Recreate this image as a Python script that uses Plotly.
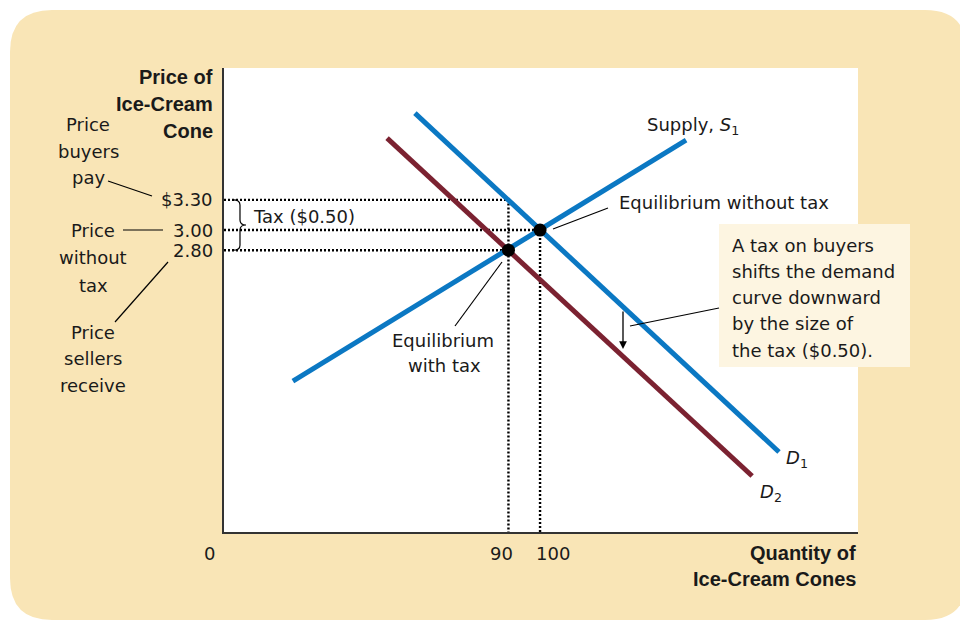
import plotly.graph_objects as go

# curve end points (quantity, price)
supply_q = [21.8, 146.2]
supply_p = [1.50, 3.894]
demand1_q = [60.4, 175.6]
demand1_p = [4.162, 0.795]
demand2_q = [51.6, 167.1]
demand2_p = [3.914, 0.556]

# equilibria: without tax, with tax
eq_q = [100, 90]
eq_p = [3.00, 2.80]
buyers_price = 3.30

price_ticks = [3.30, 3.00, 2.80]
price_labels = ["$3.30", "3.00", "2.80"]
qty_ticks = [90, 100]
qty_labels = ["90", "100"]

BLUE = "#0b78c3"
RED = "#7b2231"
TAN = "#f9e5b6"
INK = "#1a1a1a"
FONT = "DejaVu Sans"
BOLD = "Liberation Sans"


# pixel -> paper helpers (plot area is 224..858 x 68..532 on the page)
def px(p):
    return (p - 224) / 634


def py(p):
    return (532 - p) / 464


fig = go.Figure()

dot = dict(color="black", width=2.4, dash="2px,2px")
fig.add_trace(go.Scatter(x=[0, qty_ticks[0], qty_ticks[0]], y=[buyers_price, buyers_price, 0],
                         mode="lines", line=dot, hoverinfo="skip"))
fig.add_trace(go.Scatter(x=[0, eq_q[0], eq_q[0]], y=[eq_p[0], eq_p[0], 0],
                         mode="lines", line=dot, hoverinfo="skip"))
fig.add_trace(go.Scatter(x=[0, eq_q[1]], y=[eq_p[1], eq_p[1]],
                         mode="lines", line=dot, hoverinfo="skip"))

fig.add_trace(go.Scatter(x=demand2_q, y=demand2_p, mode="lines", line=dict(color=RED, width=5)))
fig.add_trace(go.Scatter(x=demand1_q, y=demand1_p, mode="lines", line=dict(color=BLUE, width=5)))
fig.add_trace(go.Scatter(x=supply_q, y=supply_p, mode="lines", line=dict(color=BLUE, width=5)))
fig.add_trace(go.Scatter(x=eq_q, y=eq_p, mode="markers", marker=dict(color="black", size=13)))

# background panel with rounded corners
L, T, R, B, rad = 10, 10, 967, 620, 42
panel = (f"M {px(L + rad)},{py(T)} L {px(R - rad)},{py(T)} Q {px(R)},{py(T)} {px(R)},{py(T + rad)} "
         f"L {px(R)},{py(B - rad)} Q {px(R)},{py(B)} {px(R - rad)},{py(B)} "
         f"L {px(L + rad)},{py(B)} Q {px(L)},{py(B)} {px(L)},{py(B - rad)} "
         f"L {px(L)},{py(T + rad)} Q {px(L)},{py(T)} {px(L + rad)},{py(T)} Z")
fig.add_shape(type="path", path=panel, xref="paper", yref="paper",
              fillcolor=TAN, line_width=0, layer="below")
fig.add_shape(type="rect", x0=0, x1=1, y0=0, y1=1, xref="paper", yref="paper",
              fillcolor="white", line_width=0, layer="below")
fig.add_shape(type="rect", x0=px(719), x1=px(910), y0=py(367), y1=py(224),
              xref="paper", yref="paper", fillcolor="#fdf5e1", line_width=0, layer="below")

# brace for the tax
xl, xs, xt = 2.85, 5.06, 6.96
mid = (buyers_price + eq_p[1]) / 2
brace = (f"M {xl},{buyers_price} Q {xs},{buyers_price} {xs},{buyers_price - 0.05} "
         f"L {xs},{mid + 0.05} Q {xs},{mid} {xt},{mid} Q {xs},{mid} {xs},{mid - 0.05} "
         f"L {xs},{eq_p[1] + 0.05} Q {xs},{eq_p[1]} {xl},{eq_p[1]}")
fig.add_shape(type="path", path=brace, xref="x", yref="y", line=dict(color="black", width=1.2))

# leader lines
leaders = [(108, 181, 152, 196), (123, 230, 163, 230), (168, 262, 115, 322),
           (553, 229, 608, 208), (502, 262, 455, 326), (719, 308, 630, 326)]
for x0, y0, x1, y1 in leaders:
    fig.add_shape(type="line", x0=px(x0), y0=py(y0), x1=px(x1), y1=py(y1),
                  xref="paper", yref="paper", line=dict(color="black", width=1.2))


def note(text, x, y, anchor="center", size=18, family=FONT, bold=False):
    if bold:
        text = "<b>" + text + "</b>"
    fig.add_annotation(text=text, x=px(x), y=py(y), xref="paper", yref="paper",
                       xanchor=anchor, yanchor="middle", showarrow=False,
                       font=dict(family=family, size=size, color=INK))


# axis titles
for t, yy in zip(["Price of", "Ice-Cream", "Cone"], [77, 104, 131]):
    note(t, 215, yy, "right", 20, BOLD, True)
note("Quantity of", 858, 553, "right", 20, BOLD, True)
note("Ice-Cream Cones", 858, 579, "right", 20, BOLD, True)

# tick labels
for v, lab in zip(price_ticks, price_labels):
    fig.add_annotation(text=lab, x=0, y=v, xref="x", yref="y", xanchor="right", yanchor="middle",
                       xshift=-9, showarrow=False, font=dict(family=FONT, size=18, color=INK))
for v, lab, sh in zip(qty_ticks, qty_labels, [-7, 13]):
    fig.add_annotation(text=lab, x=v, y=0, xref="x", yref="y", xanchor="center", yanchor="middle",
                       xshift=sh, yshift=-21, showarrow=False, font=dict(family=FONT, size=18, color=INK))
note("0", 209, 553)

# left side notes
for t, yy in zip(["Price", "buyers", "pay"], [124, 151, 178]):
    note(t, 88, yy)
for t, yy in zip(["Price", "without", "tax"], [230, 258, 285]):
    note(t, 93, yy)
for t, yy in zip(["Price", "sellers", "receive"], [332, 358, 385]):
    note(t, 93, yy)

note("Tax ($0.50)", 251, 217, "left")
note("Supply, <i>S</i><sub>1</sub>", 645, 126, "left")
note("<i>D</i><sub>1</sub>", 784, 459, "left")
note("<i>D</i><sub>2</sub>", 758, 493, "left")
note("Equilibrium without tax", 617, 202, "left")
note("Equilibrium", 443, 340)
note("with tax", 444, 366)
for t, yy in zip(["A tax on buyers", "shifts the demand", "curve downward",
                  "by the size of", "the tax ($0.50)."], [245, 271, 297, 323, 350]):
    note(t, 730, yy, "left")

# shift arrow
fig.add_annotation(x=px(623), y=py(349), xref="paper", yref="paper", ax=0, ay=-39,
                   showarrow=True, arrowhead=2, arrowsize=1.2, arrowwidth=1.3,
                   arrowcolor="black", text="")

fig.update_xaxes(range=[0, 200.6], showgrid=False, zeroline=False, showticklabels=False,
                 ticks="", showline=True, linecolor="#333333", linewidth=2)
fig.update_yaxes(range=[0, 4.61], showgrid=False, zeroline=False, showticklabels=False,
                 ticks="", showline=True, linecolor="#333333", linewidth=2)
# the page adds an 8px body margin, so the figure starts at (8, 8)
fig.update_layout(width=960, height=613, margin=dict(l=216, r=110, t=60, b=89),
                  paper_bgcolor="white", plot_bgcolor="rgba(0,0,0,0)", showlegend=False)

fig.write_html("out.html")
